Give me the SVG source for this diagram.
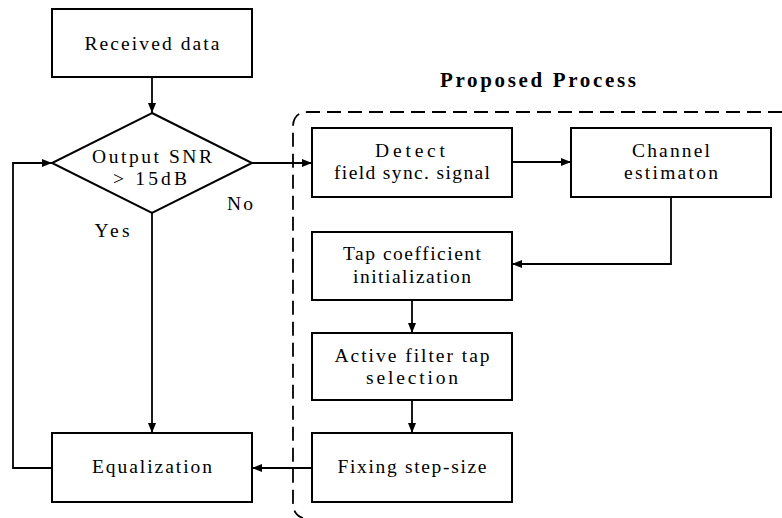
<svg xmlns="http://www.w3.org/2000/svg" width="782" height="518" viewBox="0 0 782 518">
<defs>
<marker id="arr" viewBox="0 0 10 8" refX="10" refY="4" markerWidth="10" markerHeight="8" markerUnits="userSpaceOnUse" orient="auto">
<path d="M0,0 L10,4 L0,8 Z" fill="#000"/>
</marker>
<style>
.box{fill:#fff;stroke:#000;stroke-width:2}
.t{font-family:"Liberation Serif","Times New Roman",serif;font-size:19.5px;fill:#000;text-anchor:middle}
.ca{fill:none;stroke:#000;stroke-width:1.8;marker-end:url(#arr)}
.dash{fill:none;stroke:#000;stroke-width:1.8;stroke-dasharray:14 7}
.title{font-family:"Liberation Serif","Times New Roman",serif;font-size:21px;font-weight:bold;fill:#000;text-anchor:middle}
</style>
</defs>
<rect width="782" height="518" fill="#fff"/>
<text class="title" x="538" y="87" textLength="196" lengthAdjust="spacing">Proposed Process</text>
<path class="dash" d="M782,112 H308 Q293,112 293,127 V503 Q293,515 303,518"/>
<g id="connectors">
<line class="ca" x1="152" y1="77" x2="152" y2="113"/>
<line class="ca" x1="152" y1="213" x2="152" y2="433"/>
<polyline class="ca" points="52,468 13,468 13,163 52,163"/>
<line class="ca" x1="252" y1="163" x2="312" y2="163"/>
<line class="ca" x1="512" y1="162" x2="571" y2="162"/>
<polyline class="ca" points="671,197 671,264 512,264"/>
<line class="ca" x1="412" y1="300" x2="412" y2="333"/>
<line class="ca" x1="412" y1="400" x2="412" y2="433"/>
<line class="ca" x1="312" y1="468" x2="252" y2="468"/>
</g>
<g id="received">
<rect class="box" x="52" y="9" width="200" height="68"/>
<text class="t" x="152" y="50" textLength="135" lengthAdjust="spacing">Received data</text>
</g>
<g id="decision">
<polygon class="box" points="152,113 252,163 152,213 52,163"/>
<text class="t" x="152" y="163" textLength="120" lengthAdjust="spacing">Output SNR</text>
<text class="t" x="150" y="185" textLength="74" lengthAdjust="spacing">&gt;  15dB</text>
</g>
<g id="labels">
<text class="t" x="112" y="237" textLength="35" lengthAdjust="spacing">Yes</text>
<text class="t" x="240" y="210" textLength="26" lengthAdjust="spacing">No</text>
</g>
<g id="equalization">
<rect class="box" x="52" y="433" width="200" height="69"/>
<text class="t" x="152" y="473" textLength="120" lengthAdjust="spacing">Equalization</text>
</g>
<g id="detect">
<rect class="box" x="312" y="128" width="200" height="69"/>
<text class="t" x="410" y="157" textLength="70" lengthAdjust="spacing">Detect</text>
<text class="t" x="412" y="179" textLength="156" lengthAdjust="spacing">field sync. signal</text>
</g>
<g id="channel">
<rect class="box" x="571" y="128" width="200" height="69"/>
<text class="t" x="671" y="157" textLength="78" lengthAdjust="spacing">Channel</text>
<text class="t" x="671" y="179" textLength="94" lengthAdjust="spacing">estimaton</text>
</g>
<g id="tap">
<rect class="box" x="312" y="232" width="200" height="68"/>
<text class="t" x="412" y="260" textLength="138" lengthAdjust="spacing">Tap coefficient</text>
<text class="t" x="412" y="283" textLength="118" lengthAdjust="spacing">initialization</text>
</g>
<g id="active">
<rect class="box" x="312" y="333" width="200" height="67"/>
<text class="t" x="412" y="362" textLength="155" lengthAdjust="spacing">Active filter tap</text>
<text class="t" x="412" y="384" textLength="92" lengthAdjust="spacing">selection</text>
</g>
<g id="fixing">
<rect class="box" x="312" y="433" width="200" height="69"/>
<text class="t" x="412" y="473" textLength="149" lengthAdjust="spacing">Fixing step-size</text>
</g>
</svg>
